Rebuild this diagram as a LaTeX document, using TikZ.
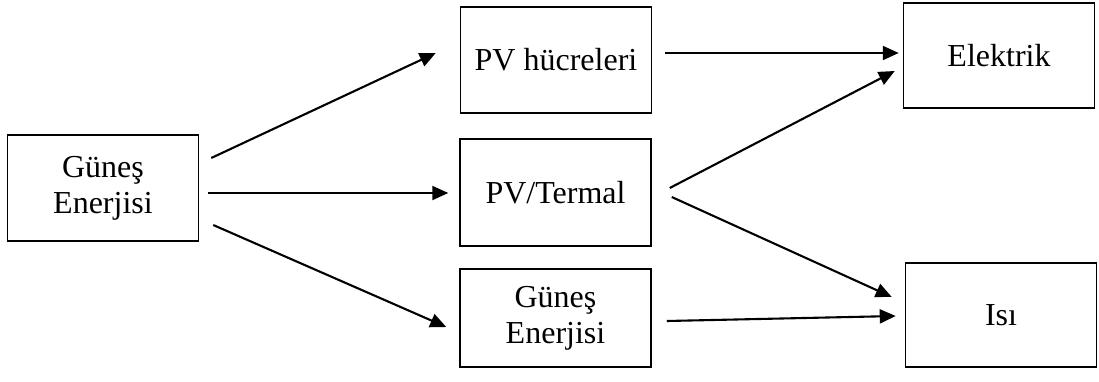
\documentclass[tikz,border=0pt]{standalone}
\usepackage{fontspec}
\setmainfont{Liberation Serif}
\usetikzlibrary{arrows.meta}
\begin{document}
\begin{tikzpicture}[x=1pt,y=-1pt,
  box/.style={draw, line width=1.5pt, inner sep=0pt, align=center,
    minimum width=191pt, minimum height=#1,
    font=\fontsize{32pt}{36pt}\selectfont},
  box/.default=106pt,
  arr/.style={line width=2.1pt, -{Triangle[length=16pt,width=14pt]}}]
\useasboundingbox (0,0) rectangle (1099,381);

% source
\node[box] (src) at (103,188) {Güneş\\Enerjisi};

% converters
\node[box] (pvc) at (556,60) {PV hücreleri};
\node[box=107pt] (pvt) at (555.5,192.5) {PV/Termal};
\node[box=98pt] (sol) at (555.5,318) {Güneş\\Enerjisi};

% outputs
\node[box=105pt] (ele) at (999,55.5) {Elektrik};
\node[box=104pt] (isi) at (1001,315) {Isı};

% source to converters
\draw[arr] ([shift={(12,-30)}]src.east) -- ([shift={(-24,-7)}]pvc.west);
\draw[arr] ([shift={(9,5)}]src.east) -- ([shift={(-11,0.5)}]pvt.west);
\draw[arr] ([shift={(14,37)}]src.east) -- ([shift={(-13,9)}]sol.west);

% converters to outputs
\draw[arr] ([shift={(13,-7)}]pvc.east) -- ([shift={(-4,-2.5)}]ele.west);
\draw[arr] ([shift={(18,-4.5)}]pvt.east) -- ([shift={(-8,15.5)}]ele.west);
\draw[arr] ([shift={(20,4.5)}]pvt.east) -- ([shift={(-13,-18)}]isi.west);
\draw[arr] ([shift={(15,3)}]sol.east) -- ([shift={(-9,1)}]isi.west);
\end{tikzpicture}
\end{document}
